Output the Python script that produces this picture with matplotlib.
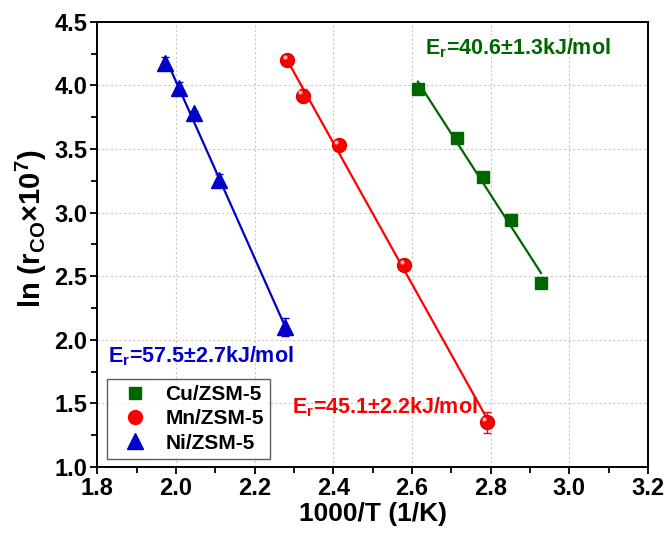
import numpy as np
import matplotlib
matplotlib.use('Agg')
import matplotlib.pyplot as plt
from matplotlib.lines import Line2D

plt.rcParams['font.family'] = ['Liberation Sans', 'DejaVu Sans']
plt.rcParams['font.weight'] = 'bold'
plt.rcParams['mathtext.fontset'] = 'custom'
plt.rcParams['mathtext.rm'] = 'Liberation Sans:bold'
plt.rcParams['mathtext.default'] = 'rm'

# data
cu_x = [2.615, 2.714, 2.781, 2.852, 2.928]
cu_y = [3.97, 3.59, 3.28, 2.94, 2.45]
cu_err = [0.02, 0.02, 0.02, 0.03, 0.02]

mn_x = [2.282, 2.322, 2.414, 2.580, 2.790]
mn_y = [4.20, 3.92, 3.53, 2.59, 1.35]
mn_err = [0.04, 0.05, 0.02, 0.03, 0.08]

ni_x = [1.973, 2.008, 2.045, 2.109, 2.277]
ni_y = [4.18, 3.98, 3.78, 3.26, 2.10]
ni_err = [0.04, 0.05, 0.02, 0.04, 0.07]

labels = ['Cu/ZSM-5', 'Mn/ZSM-5', 'Ni/ZSM-5']
ea_text = [r'E$_r$=40.6±1.3kJ/mol', r'E$_r$=45.1±2.2kJ/mol', r'E$_r$=57.5±2.7kJ/mol']

green = '#006600'
red = '#ff0000'
blue = '#0000c8'

fig = plt.figure(figsize=(6.66, 5.33), dpi=100)
ax = fig.add_axes([0.146, 0.124, 0.827, 0.835])

# fitted Arrhenius lines
for x, y, c in [(cu_x, cu_y, green), (mn_x, mn_y, red), (ni_x, ni_y, blue)]:
    k, b = np.polyfit(x, y, 1)
    xx = np.array([min(x), max(x)])
    ax.plot(xx, k * xx + b, color=c, lw=1.6, zorder=2)

ax.errorbar(cu_x, cu_y, yerr=cu_err, fmt='s', color=green, ms=9, capsize=3,
            elinewidth=1, zorder=3)
ax.errorbar(mn_x, mn_y, yerr=mn_err, fmt='o', color=red, mec='#e00000', ms=10,
            capsize=3, elinewidth=1, zorder=3)
# highlight to fake the shaded sphere
ax.plot(np.array(mn_x) - 0.006, np.array(mn_y) + 0.025, 'o', color='#ffb0b0',
        ms=3, mec='none', zorder=4)
ax.errorbar(ni_x, ni_y, yerr=ni_err, fmt='^', color=blue, ms=11, capsize=3,
            elinewidth=1, zorder=3)

ax.text(2.633, 4.29, ea_text[0], color=green, fontsize=15.5, fontweight='bold', va='center')
ax.text(2.296, 1.47, ea_text[1], color=red, fontsize=15.5, fontweight='bold', va='center')
ax.text(1.828, 1.87, ea_text[2], color=blue, fontsize=15.5, fontweight='bold', va='center')

ax.set_xlim(1.8, 3.2)
ax.set_ylim(1.0, 4.5)
ax.set_xticks(np.arange(1.8, 3.21, 0.2))
ax.set_yticks(np.arange(1.0, 4.51, 0.5))
ax.set_xticks(np.arange(1.9, 3.2, 0.2), minor=True)
ax.set_yticks(np.arange(1.25, 4.5, 0.5), minor=True)
ax.set_xticklabels([f'{v:.1f}' for v in np.arange(1.8, 3.21, 0.2)])
ax.set_yticklabels([f'{v:.1f}' for v in np.arange(1.0, 4.51, 0.5)])
ax.tick_params(which='major', direction='out', length=5, width=1.3, labelsize=17, pad=2)
ax.tick_params(which='minor', direction='out', length=4, width=1.3)
for lab in ax.get_xticklabels() + ax.get_yticklabels():
    lab.set_fontweight('bold')
for s in ax.spines.values():
    s.set_linewidth(1.4)

ax.grid(True, which='major', color='#c8c8c8', linestyle=(0, (2, 2)), lw=0.8)
ax.set_axisbelow(True)

ax.set_xlabel('1000/T (1/K)', fontsize=19, fontweight='bold', labelpad=2)
ax.set_ylabel(r'ln (r$_{CO}$×10$^7$)', fontsize=21, fontweight='bold')
ax.yaxis.set_label_coords(-0.088, 0.535)

handles = [Line2D([], [], ls='none', marker='s', color=green, ms=9),
           Line2D([], [], ls='none', marker='o', color=red, ms=10),
           Line2D([], [], ls='none', marker='^', color=blue, ms=11)]
leg = ax.legend(handles, labels, loc='lower left', bbox_to_anchor=(0.018, 0.018),
                fontsize=15, frameon=True, fancybox=False, edgecolor='#333333',
                handlelength=2.1, handletextpad=0.4, borderpad=0.3,
                labelspacing=0.25, borderaxespad=0)
leg.get_frame().set_linewidth(1.0)

fig.savefig('out.png', dpi=100)
